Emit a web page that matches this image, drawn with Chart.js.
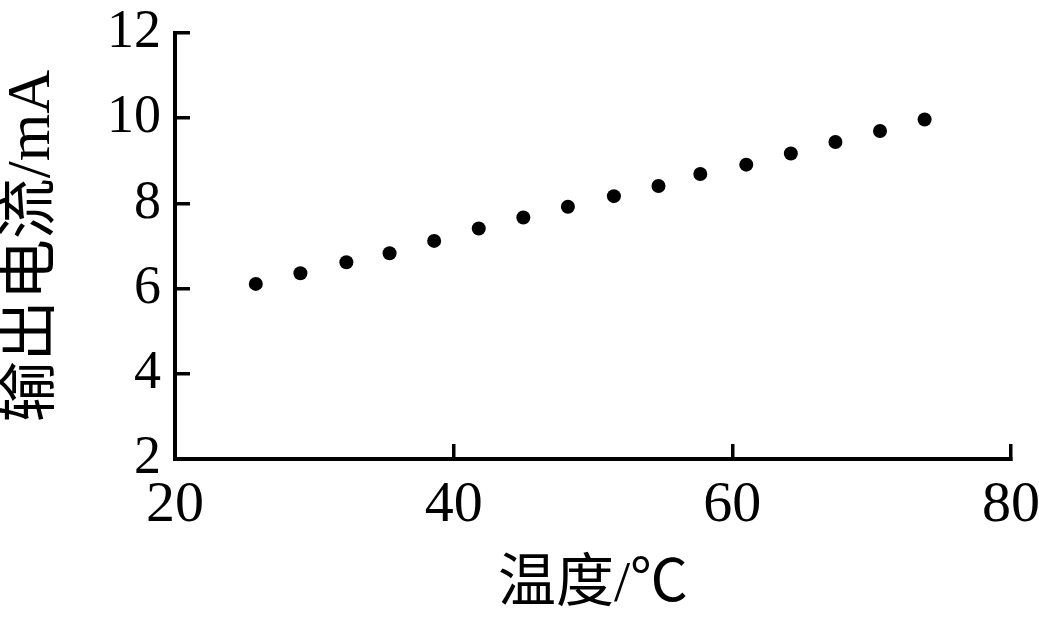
<!DOCTYPE html>
<html>
<head>
<meta charset="utf-8">
<script src="https://cdn.jsdelivr.net/npm/chart.js@4/dist/chart.umd.min.js"></script>
<style>
  html, body { margin: 0; padding: 0; background: #fff; }
  #wrap { width: 1039px; height: 620px; position: relative; }
</style>
</head>
<body>
<div id="wrap"><canvas id="myChart"></canvas></div>
<script>
// temperature (°C) vs output current (mA)
var temps = [25.8, 29.0, 32.3, 35.4, 38.6, 41.8, 45.0, 48.2, 51.5, 54.7, 57.7, 61.0, 64.2, 67.4, 70.6, 73.8];
var currents = [6.11, 6.36, 6.62, 6.83, 7.12, 7.41, 7.67, 7.92, 8.17, 8.41, 8.69, 8.91, 9.17, 9.44, 9.70, 9.97];
var xTicks = [20, 40, 60, 80];
var yTicks = [2, 4, 6, 8, 10, 12];
var xTitle = '温度/℃';
var yTitle = '输出电流/mA';

var serif = "'Liberation Serif', 'Noto Sans CJK SC', serif";

var points = temps.map(function(t, i) {
    return { x: t, y: currents[i] };
});

var ctx = document.getElementById('myChart').getContext('2d');
var myChart = new Chart(ctx, {
    type: 'scatter',
    data: {
        datasets: [{
            data: points,
            backgroundColor: '#000',
            borderWidth: 0,
            pointRadius: 7,
            pointHoverRadius: 7
        }]
    },
    options: {
        responsive: true,
        maintainAspectRatio: false,
        animation: false,
        layout: {
            padding: { top: 33, right: 28, left: 0, bottom: 0 }
        },
        plugins: {
            legend: { display: false },
            tooltip: { enabled: false }
        },
        scales: {
            x: {
                type: 'linear',
                min: xTicks[0],
                max: xTicks[xTicks.length - 1],
                afterBuildTicks: function(scale) {
                    scale.ticks = xTicks.map(function(v) { return { value: v }; });
                },
                afterFit: function(scale) {
                    scale.height = 161;
                    scale.paddingLeft = 0;
                    scale.paddingRight = 0;
                },
                border: { display: true, color: '#000', width: 4 },
                grid: { drawOnChartArea: false, tickLength: -15, lineWidth: 3.5, color: '#000' },
                ticks: {
                    color: '#000',
                    padding: 33,
                    maxRotation: 0,
                    font: { family: serif, size: 58, lineHeight: 1 }
                },
                title: {
                    display: true,
                    text: xTitle,
                    color: '#000',
                    padding: { top: 0, bottom: 5 },
                    font: { family: serif, size: 58, lineHeight: 1 }
                }
            },
            y: {
                type: 'linear',
                min: yTicks[0],
                max: yTicks[yTicks.length - 1],
                afterBuildTicks: function(scale) {
                    scale.ticks = yTicks.map(function(v) { return { value: v }; });
                },
                afterFit: function(scale) {
                    scale.width = 175;
                    scale.paddingTop = 0;
                    scale.paddingBottom = 0;
                },
                border: { display: true, color: '#000', width: 4 },
                grid: { drawOnChartArea: false, tickLength: -15, lineWidth: 3.5, color: '#000' },
                ticks: {
                    color: '#000',
                    padding: 29,
                    font: { family: serif, size: 54, lineHeight: 1 }
                },
                title: {
                    display: true,
                    text: yTitle,
                    color: '#000',
                    padding: { top: 2, bottom: 0 },
                    font: { family: serif, size: 61, lineHeight: 1 }
                }
            }
        }
    }
});
</script>
</body>
</html>
